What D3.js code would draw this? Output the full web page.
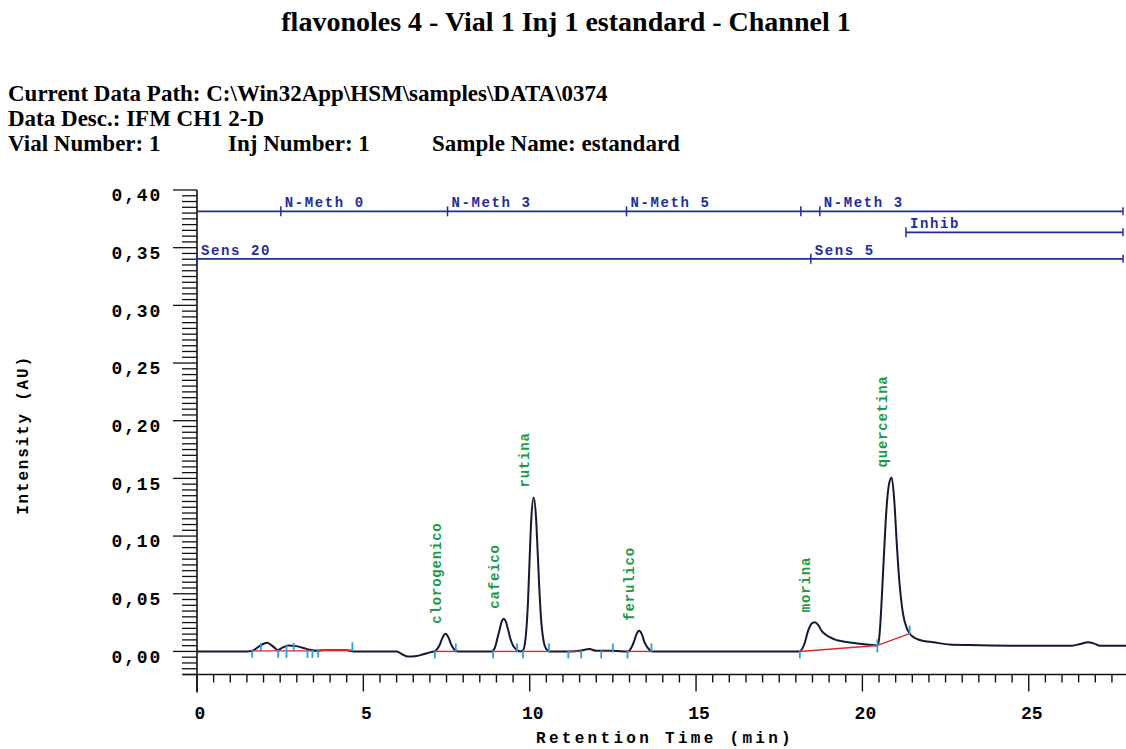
<!DOCTYPE html>
<html>
<head>
<meta charset="utf-8">
<script src="https://cdn.jsdelivr.net/npm/d3@7"></script>
<style>
  body { margin: 0; background: #fff; }
  .mono { font-family: "Liberation Mono", "DejaVu Sans Mono", monospace; font-weight: bold; }
  .serif { font-family: "Liberation Serif", "Times New Roman", serif; }
</style>
</head>
<body>
<div id="chart"></div>
<script>
'use strict';

// header text
var titleText = 'flavonoles 4 - Vial 1 Inj 1 estandard - Channel 1';
var headerLines = [
  'Current Data Path: C:\\Win32App\\HSM\\samples\\DATA\\0374',
  'Data Desc.: IFM CH1 2-D'
];
var headerRow = ['Vial Number: 1', 'Inj Number: 1', 'Sample Name: estandard'];

// axes
var yTickValues = [0, 0.05, 0.10, 0.15, 0.20, 0.25, 0.30, 0.35, 0.40];
var xTickValues = [0, 5, 10, 15, 20, 25];

// chromatogram trace [time (min), intensity (AU)]
var chromatogram = [
  [0, 0], [1.5, 0], [1.66, 0.0005], [1.85, 0.004], [2.1, 0.0075], [2.3, 0.004],
  [2.43, 0.0012], [2.55, 0.003], [2.74, 0.0052], [2.99, 0.0046], [3.2, 0.003],
  [3.39, 0.0015], [3.64, 0.0005], [3.8, 0.001], [4.5, 0.001], [4.7, 0], [6.0, 0],
  [6.14, -0.002], [6.35, -0.0045], [6.6, -0.004], [6.8, -0.0025], [7.0, -0.0008],
  [7.12, 0], [7.2, 0.0015], [7.3, 0.006], [7.38, 0.012], [7.47, 0.0154], [7.56, 0.012],
  [7.64, 0.006], [7.74, 0.0015], [7.85, 0], [8.85, 0], [8.95, 0.003], [9.03, 0.0115],
  [9.1, 0.0195], [9.16, 0.026], [9.22, 0.0284], [9.28, 0.026], [9.35, 0.019],
  [9.42, 0.011], [9.5, 0.005], [9.6, 0.0015], [9.72, 0], [9.8, 0.001], [9.88, 0.0125],
  [9.95, 0.044], [10.0, 0.082], [10.05, 0.116], [10.12, 0.1334], [10.19, 0.116],
  [10.24, 0.086], [10.29, 0.054], [10.35, 0.025], [10.42, 0.0085], [10.5, 0.002],
  [10.6, 0], [11.2, 0], [11.5, 0.0005], [11.8, 0.002], [12.0, 0.0005], [12.5, 0.0005],
  [12.95, 0], [13.05, 0.003], [13.14, 0.009], [13.21, 0.015], [13.29, 0.018],
  [13.37, 0.015], [13.45, 0.008], [13.55, 0.003], [13.68, 0], [18.1, 0], [18.25, 0.006],
  [18.37, 0.018], [18.47, 0.024], [18.57, 0.0254], [18.67, 0.023], [18.77, 0.018],
  [18.9, 0.0145], [19.02, 0.0124], [19.2, 0.01], [19.42, 0.0087], [19.7, 0.0075],
  [19.92, 0.0067], [20.2, 0.0058], [20.42, 0.0052], [20.48, 0.007], [20.53, 0.02],
  [20.58, 0.045], [20.65, 0.085], [20.72, 0.122], [20.8, 0.145], [20.88, 0.1508],
  [20.96, 0.13], [21.03, 0.095], [21.1, 0.0645], [21.22, 0.0327], [21.34, 0.0197],
  [21.42, 0.0155], [21.62, 0.011], [21.85, 0.009], [22.12, 0.008], [22.62, 0.006],
  [23.2, 0.0055], [24.5, 0.005], [26.3, 0.005], [26.55, 0.0065], [26.78, 0.008],
  [26.95, 0.007], [27.13, 0.005], [28, 0.005]
];

// named peaks [time, apex height]
var peakNames = ['clorogenico', 'cafeico', 'rutina', 'ferulico', 'morina', 'quercetina'];
var peakTimes = [7.47, 9.22, 10.12, 13.29, 18.57, 20.88];
var peakHeights = [0.0154, 0.0284, 0.1334, 0.018, 0.0254, 0.1508];

// integration baselines [t0, v0, t1, v1]
var baselines = [
  [1.66, 0.0005, 3.47, 0.0005], [3.64, 0.001, 4.67, 0.001], [7.15, 0, 7.78, 0],
  [8.9, 0, 9.62, 0], [9.8, 0, 10.58, 0], [11.16, 0, 11.55, 0], [12.15, 0, 12.5, 0],
  [12.94, 0, 13.66, 0], [18.12, 0, 20.45, 0.0052], [20.45, 0.0052, 21.42, 0.0155]
];

// integration marks [time, value, direction]
var marks = [
  [1.66, 0.0005, 'd'], [1.92, 0.0005, 'u'], [2.44, 0.0005, 'd'], [2.69, 0.0005, 'b'],
  [2.91, 0.0005, 'u'], [3.32, 0.0005, 'd'], [3.47, 0.0005, 'd'], [3.64, 0.001, 'd'],
  [4.67, 0.001, 'u'], [7.15, 0, 'd'], [7.78, 0, 'u'], [8.9, 0, 'd'], [9.62, 0, 'u'],
  [9.8, 0, 'd'], [10.58, 0, 'u'], [11.16, 0, 'd'], [11.55, 0, 'd'], [12.15, 0, 'd'],
  [12.5, 0, 'u'], [12.94, 0, 'd'], [13.66, 0, 'u'], [18.12, 0, 'd'],
  [20.45, 0.0052, 'b'], [21.42, 0.0155, 'u']
];

// timed events, one track per row
var methTimes = [2.52, 7.53, 12.91, 18.15, 18.72];
var methLabels = ['N-Meth 0', 'N-Meth 3', 'N-Meth 5', '', 'N-Meth 3'];
var inhibTimes = [21.31];
var inhibLabels = ['Inhib'];
var sensTimes = [0, 18.45];
var sensLabels = ['Sens 20', 'Sens 5'];
var trackLevels = [0.3815, 0.3633, 0.3403];

var width = 1126, height = 749;
var margins = { left: 197, top: 190, right: 0, bottom: 75 };

var svg = d3.select('#chart').append('svg')
  .attr('width', width)
  .attr('height', height);

var x = d3.scaleLinear().domain([0, 28]).range([margins.left, margins.left + 28 * 33.27]);
var y = d3.scaleLinear().domain([-0.02, 0.40]).range([height - margins.bottom + 0.5, margins.top]);

// header
svg.append('text')
  .attr('class', 'serif')
  .attr('x', 566).attr('y', 31)
  .attr('text-anchor', 'middle')
  .style('font-size', '28px')
  .style('font-weight', 'bold')
  .text(titleText);

headerLines.forEach(function(d, i) {
  svg.append('text')
    .attr('class', 'serif')
    .attr('x', 8).attr('y', 101 + i * 25)
    .style('font-size', '23px')
    .style('font-weight', 'bold')
    .text(d);
});

var rowX = [8, 228, 432];
headerRow.forEach(function(d, i) {
  svg.append('text')
    .attr('class', 'serif')
    .attr('x', rowX[i]).attr('y', 151)
    .style('font-size', '23px')
    .style('font-weight', 'bold')
    .text(d);
});

// y axis with minor ticks every 0.005
var yMinor = d3.range(-4, 81).map(function(i) { return i * 0.005; });
var yAxisG = svg.append('g')
  .attr('transform', 'translate(' + margins.left + ',0)');
yAxisG.append('line')
  .attr('x1', 0).attr('x2', 0)
  .attr('y1', y(0.40)).attr('y2', y(-0.02) + 18)
  .attr('stroke', '#111').attr('stroke-width', 1.6);
yAxisG.selectAll('.ytick')
  .data(yMinor)
  .enter()
  .append('line')
  .attr('x1', function(d) { return Math.abs(Math.round(d * 1000) % 50) === 0 ? -24 : -15; })
  .attr('x2', 0)
  .attr('y1', function(d) { return y(d); })
  .attr('y2', function(d) { return y(d); })
  .attr('stroke', '#111').attr('stroke-width', 1.3);
yAxisG.selectAll('.ylabel')
  .data(yTickValues)
  .enter()
  .append('text')
  .attr('class', 'mono')
  .attr('x', -35)
  .attr('y', function(d) { return y(d) + 5; })
  .attr('dy', '0.35em')
  .attr('text-anchor', 'end')
  .style('font-size', '18px')
  .style('letter-spacing', '1.8px')
  .text(function(d) { return d3.format('.2f')(d).replace('.', ','); });

// x axis with minor ticks every 0.5 min
var xMinor = d3.range(0, 57).map(function(i) { return i * 0.5; });
var xAxisG = svg.append('g')
  .attr('transform', 'translate(0,' + y(-0.02) + ')');
xAxisG.append('line')
  .attr('x1', margins.left - 14).attr('x2', width)
  .attr('y1', 0).attr('y2', 0)
  .attr('stroke', '#111').attr('stroke-width', 1.6);
xAxisG.selectAll('.xtick')
  .data(xMinor)
  .enter()
  .append('line')
  .attr('x1', function(d) { return x(d); })
  .attr('x2', function(d) { return x(d); })
  .attr('y1', 0)
  .attr('y2', function(d) { return d % 5 === 0 ? 17 : 8; })
  .attr('stroke', '#111').attr('stroke-width', 1.4);
xAxisG.selectAll('.xlabel')
  .data(xTickValues)
  .enter()
  .append('text')
  .attr('class', 'mono')
  .attr('x', function(d) { return x(d) + 3; })
  .attr('y', 44)
  .attr('text-anchor', 'middle')
  .style('font-size', '18px')
  .text(function(d) { return d; });

// axis titles
svg.append('text')
  .attr('class', 'mono')
  .attr('x', 665).attr('y', 743)
  .attr('text-anchor', 'middle')
  .style('font-size', '16px')
  .style('letter-spacing', '3.3px')
  .text('Retention Time (min)');
svg.append('text')
  .attr('class', 'mono')
  .attr('transform', 'translate(28,435) rotate(-90)')
  .attr('text-anchor', 'middle')
  .style('font-size', '16px')
  .style('letter-spacing', '1.8px')
  .text('Intensity (AU)');

// event tracks
var blue = '#1f2d9c';
function drawTrack(times, labels, level, start) {
  var g = svg.append('g').attr('class', 'track');
  var yy = y(level);
  g.append('line')
    .attr('x1', x(start)).attr('x2', width - 3)
    .attr('y1', yy).attr('y2', yy)
    .attr('stroke', blue).attr('stroke-width', 1.8);
  g.append('line')
    .attr('x1', width - 3).attr('x2', width - 3)
    .attr('y1', yy - 4).attr('y2', yy + 4)
    .attr('stroke', blue).attr('stroke-width', 1.5);
  g.selectAll('.ev')
    .data(times)
    .enter()
    .append('line')
    .attr('x1', function(d) { return x(d); })
    .attr('x2', function(d) { return x(d); })
    .attr('y1', yy - 5).attr('y2', yy + 5)
    .attr('stroke', blue).attr('stroke-width', 1.5);
  g.selectAll('.evlabel')
    .data(times)
    .enter()
    .append('text')
    .attr('class', 'mono')
    .attr('x', function(d) { return x(d) + 4; })
    .attr('y', yy - 4)
    .attr('fill', blue)
    .style('font-size', '14px')
    .style('letter-spacing', '1.6px')
    .text(function(d, i) { return labels[i]; });
}
drawTrack(methTimes, methLabels, trackLevels[0], 0);
drawTrack(inhibTimes, inhibLabels, trackLevels[1], inhibTimes[0]);
drawTrack(sensTimes, sensLabels, trackLevels[2], 0);

// signal
var line = d3.line()
  .x(function(d) { return x(d[0]); })
  .y(function(d) { return y(d[1]); })
  .curve(d3.curveMonotoneX);

svg.append('path')
  .datum(chromatogram)
  .attr('d', line)
  .attr('fill', 'none')
  .attr('stroke', '#161833')
  .attr('stroke-width', 2);

// integration baselines
svg.selectAll('.base')
  .data(baselines)
  .enter()
  .append('line')
  .attr('x1', function(d) { return x(d[0]); })
  .attr('y1', function(d) { return y(d[1]); })
  .attr('x2', function(d) { return x(d[2]); })
  .attr('y2', function(d) { return y(d[3]); })
  .attr('stroke', '#e0262a')
  .attr('stroke-width', 1.4);

// integration marks
svg.selectAll('.mark')
  .data(marks)
  .enter()
  .append('line')
  .attr('x1', function(d) { return x(d[0]); })
  .attr('x2', function(d) { return x(d[0]); })
  .attr('y1', function(d) { return y(d[1]) + (d[2] === 'u' ? -8 : d[2] === 'b' ? -6 : -1); })
  .attr('y2', function(d) { return y(d[1]) + (d[2] === 'u' ? 1 : 7); })
  .attr('stroke', '#2a9fe2')
  .attr('stroke-width', 1.8);

// peak names
svg.selectAll('.peakname')
  .data(peakNames)
  .enter()
  .append('text')
  .attr('class', 'mono')
  .attr('transform', function(d, i) {
    return 'translate(' + (x(peakTimes[i]) - 5) + ',' + (y(peakHeights[i]) - 10) + ') rotate(-90)';
  })
  .attr('fill', '#1c9a45')
  .style('font-size', '14px')
  .style('letter-spacing', '0.8px')
  .text(function(d) { return d; });
</script>
</body>
</html>
